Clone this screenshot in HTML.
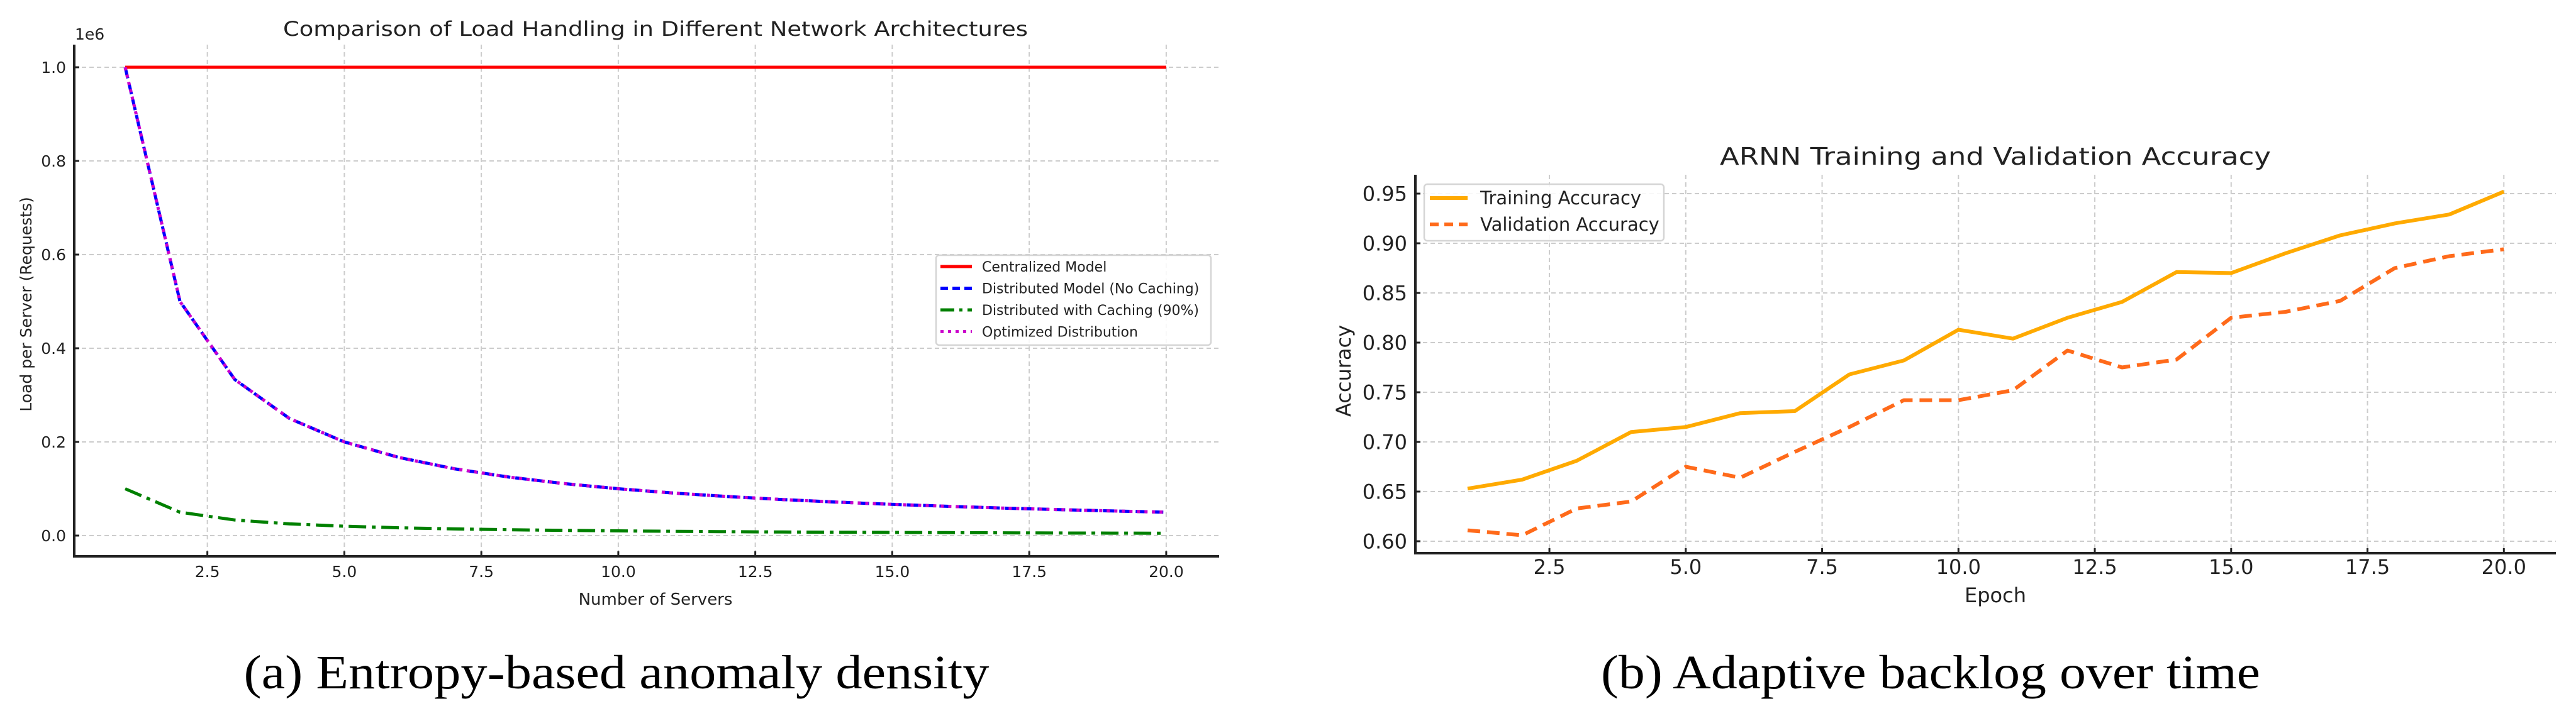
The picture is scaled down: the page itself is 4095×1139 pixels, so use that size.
<!DOCTYPE html>
<html><head><meta charset="utf-8"><style>
html,body{margin:0;padding:0;background:#fff;}
svg{display:block;}
text{font-family:"DejaVu Sans","Liberation Sans",sans-serif;fill:#222;}
.cap{font-family:"Liberation Serif",serif;fill:#000;}
</style></head><body>
<svg id="root" width="4095" height="1139" viewBox="0 0 4095 1139" xmlns="http://www.w3.org/2000/svg">
<g id="ga"></g>
<g id="gb"></g>
<text class="cap" x="980" y="1095" font-size="76" text-anchor="middle" textLength="1185" lengthAdjust="spacingAndGlyphs">(a) Entropy-based anomaly density</text>
<text class="cap" x="3069" y="1095" font-size="76" text-anchor="middle" textLength="1048" lengthAdjust="spacingAndGlyphs">(b) Adaptive backlog over time</text>
</svg>
<script>
// Chart A data
const serversA = [1,2,3,4,5,6,7,8,9,10,11,12,13,14,15,16,17,18,19,20];
const centralizedA = [1000000,1000000,1000000,1000000,1000000,1000000,1000000,1000000,1000000,1000000,1000000,1000000,1000000,1000000,1000000,1000000,1000000,1000000,1000000,1000000];
const distributedA = [1000000,500000,333333,250000,200000,166667,142857,125000,111111,100000,90909,83333,76923,71429,66667,62500,58824,55556,52632,50000];
const cachingA = [100000,50000,33333,25000,20000,16667,14286,12500,11111,10000,9091,8333,7692,7143,6667,6250,5882,5556,5263,5000];
const optimizedA = [1000000,500000,333333,250000,200000,166667,142857,125000,111111,100000,90909,83333,76923,71429,66667,62500,58824,55556,52632,50000];
const xTicksA = [2.5,5.0,7.5,10.0,12.5,15.0,17.5,20.0];
const yTicksA = [0.0,0.2,0.4,0.6,0.8,1.0];
// Chart B data
const epochsB = [1,2,3,4,5,6,7,8,9,10,11,12,13,14,15,16,17,18,19,20];
const trainB = [0.653,0.662,0.681,0.710,0.715,0.729,0.731,0.768,0.782,0.813,0.804,0.825,0.841,0.871,0.870,0.890,0.908,0.920,0.929,0.952];
const valB = [0.611,0.606,0.633,0.640,0.675,0.664,0.690,0.715,0.742,0.742,0.752,0.792,0.775,0.783,0.825,0.831,0.842,0.875,0.887,0.894];
const xTicksB = [2.5,5.0,7.5,10.0,12.5,15.0,17.5,20.0];
const yTicksB = [0.60,0.65,0.70,0.75,0.80,0.85,0.90,0.95];

const NS="http://www.w3.org/2000/svg";
function mk(p,tag,at,txt){const e=document.createElementNS(NS,tag);for(const k in at)e.setAttribute(k,at[k]);if(txt!==undefined)e.textContent=txt;p.appendChild(e);return e;}

function axes(g,o){
  const sx=v=>o.x1+(v-1)*o.ux, sy=v=>o.y0-(v-o.ymin)*o.uy;
  o.xt.forEach((t,i)=>{
    const l=mk(g,'line',{x1:sx(t),x2:sx(t),y1:o.top,y2:o.bottom,stroke:'#ccc','stroke-width':2,'stroke-dasharray':'7,5'});
    
    
    mk(g,'line',{x1:sx(t),x2:sx(t),y1:o.bottom,y2:o.bottom-8,stroke:'#222','stroke-width':3});
    const tx=mk(g,'text',{x:sx(t),y:o.bottom+33,'font-size':o.fs,'text-anchor':'middle'},t.toFixed(1));
    
    
  });
  o.yt.forEach(t=>{
    const l=mk(g,'line',{x1:o.left,x2:o.right,y1:sy(t),y2:sy(t),stroke:'#ccc','stroke-width':2,'stroke-dasharray':'7,5'});
    
    
    mk(g,'line',{x1:o.left,x2:o.left+8,y1:sy(t),y2:sy(t),stroke:'#222','stroke-width':3});
    const tx=mk(g,'text',{x:o.left-13,y:sy(t)+o.fs*0.36,'font-size':o.fs,'text-anchor':'end'},t.toFixed(o.yd));
    
    
  });
  const sp=mk(g,'path',{d:`M${o.left},${o.top}V${o.bottom}H${o.right}`,fill:'none',stroke:'#222','stroke-width':4});
  
  
  return {sx,sy};
}
function series(g,s,xs,ys,style,name){
  const d=xs.map((x,i)=>(i?'L':'M')+s.sx(x).toFixed(1)+','+s.sy(ys[i]).toFixed(1)).join('');
  const p=mk(g,'path',Object.assign({d,fill:'none','stroke-linejoin':'round'},style));
  
  
}

// Chart A
const ga=document.getElementById('ga');
const oa={x1:199,ux:87.1,y0:852,ymin:0,uy:745,left:118,right:1938,top:71,bottom:885,xt:xTicksA,yt:yTicksA,fs:25,yd:1};
const sa=axes(ga,{...oa,sy:null});
const saY=v=>oa.y0-(v/1e6)*oa.uy;
const sA={sx:sa.sx,sy:saY};
series(ga,sA,serversA,centralizedA,{stroke:'#ff0000','stroke-width':5},'line-centralized');
series(ga,sA,serversA,distributedA,{stroke:'#0000ff','stroke-width':5,'stroke-dasharray':'18,8'},'line-distributed');
series(ga,sA,serversA,cachingA,{stroke:'#008000','stroke-width':5,'stroke-dasharray':'28,9,6,9'},'line-caching');
series(ga,sA,serversA,optimizedA,{stroke:'#cc00cc','stroke-width':5,'stroke-dasharray':'5,7'},'line-optimized');
let t=mk(ga,'text',{x:119,y:63,'font-size':25},'1e6');
t=mk(ga,'text',{x:1042,y:57,'font-size':32,'text-anchor':'middle',textLength:1184,lengthAdjust:'spacingAndGlyphs'},'Comparison of Load Handling in Different Network Architectures');
t=mk(ga,'text',{x:1042,y:962,'font-size':26,'text-anchor':'middle'},'Number of Servers');
t=mk(ga,'text',{x:0,y:0,'font-size':25,'text-anchor':'middle',transform:'translate(50,484) rotate(-90)'},'Load per Server (Requests)');
// legend A
const la=mk(ga,'g',{});
mk(la,'rect',{x:1488,y:406,width:437,height:143,rx:5,fill:'#fff','fill-opacity':0.85,stroke:'#d5d5d5','stroke-width':2.5});
const legA=[['Centralized Model',{stroke:'#ff0000'}],['Distributed Model (No Caching)',{stroke:'#0000ff','stroke-dasharray':'12,7'}],['Distributed with Caching (90%)',{stroke:'#008000','stroke-dasharray':'22,8,5,8'}],['Optimized Distribution',{stroke:'#cc00cc','stroke-dasharray':'5,7'}]];
legA.forEach((e,i)=>{const y=424+i*34.5;
  const en=mk(la,'g',{});
  mk(en,'line',Object.assign({x1:1495,x2:1545,y1:y,y2:y,'stroke-width':5},e[1]));
  mk(en,'text',{x:1561,y:y+8,'font-size':22},e[0]);});

// Chart B
const gb=document.getElementById('gb');
const ob={x1:2333,ux:86.7,y0:861,ymin:0.60,uy:1580,left:2250,right:4063,top:278,bottom:880,xt:xTicksB,yt:yTicksB,fs:32,yd:2};
const sB=axes(gb,ob);
series(gb,sB,epochsB,trainB,{stroke:'#ffaa00','stroke-width':6},'line-training-accuracy');
series(gb,sB,epochsB,valB,{stroke:'#ff6a1a','stroke-width':6,'stroke-dasharray':'20,11'},'line-validation-accuracy');
t=mk(gb,'text',{x:3172,y:262,'font-size':38,'text-anchor':'middle',textLength:876,lengthAdjust:'spacingAndGlyphs'},'ARNN Training and Validation Accuracy');
t=mk(gb,'text',{x:3172,y:958,'font-size':32,'text-anchor':'middle'},'Epoch');
t=mk(gb,'text',{x:0,y:0,'font-size':32,'text-anchor':'middle',transform:'translate(2147,590) rotate(-90)'},'Accuracy');
const lb=mk(gb,'g',{});
mk(lb,'rect',{x:2264,y:293,width:381,height:90,rx:5,fill:'#fff','fill-opacity':0.85,stroke:'#d5d5d5','stroke-width':2.5});
const legB=[['Training Accuracy',{stroke:'#ffaa00'}],['Validation Accuracy',{stroke:'#ff6a1a','stroke-dasharray':'14,9'}]];
legB.forEach((e,i)=>{const y=315+i*42;
  const en=mk(lb,'g',{});
  mk(en,'line',Object.assign({x1:2273,x2:2333,y1:y,y2:y,'stroke-width':6},e[1]));
  mk(en,'text',{x:2353,y:y+10,'font-size':29},e[0]);});
</script>
</body></html>
